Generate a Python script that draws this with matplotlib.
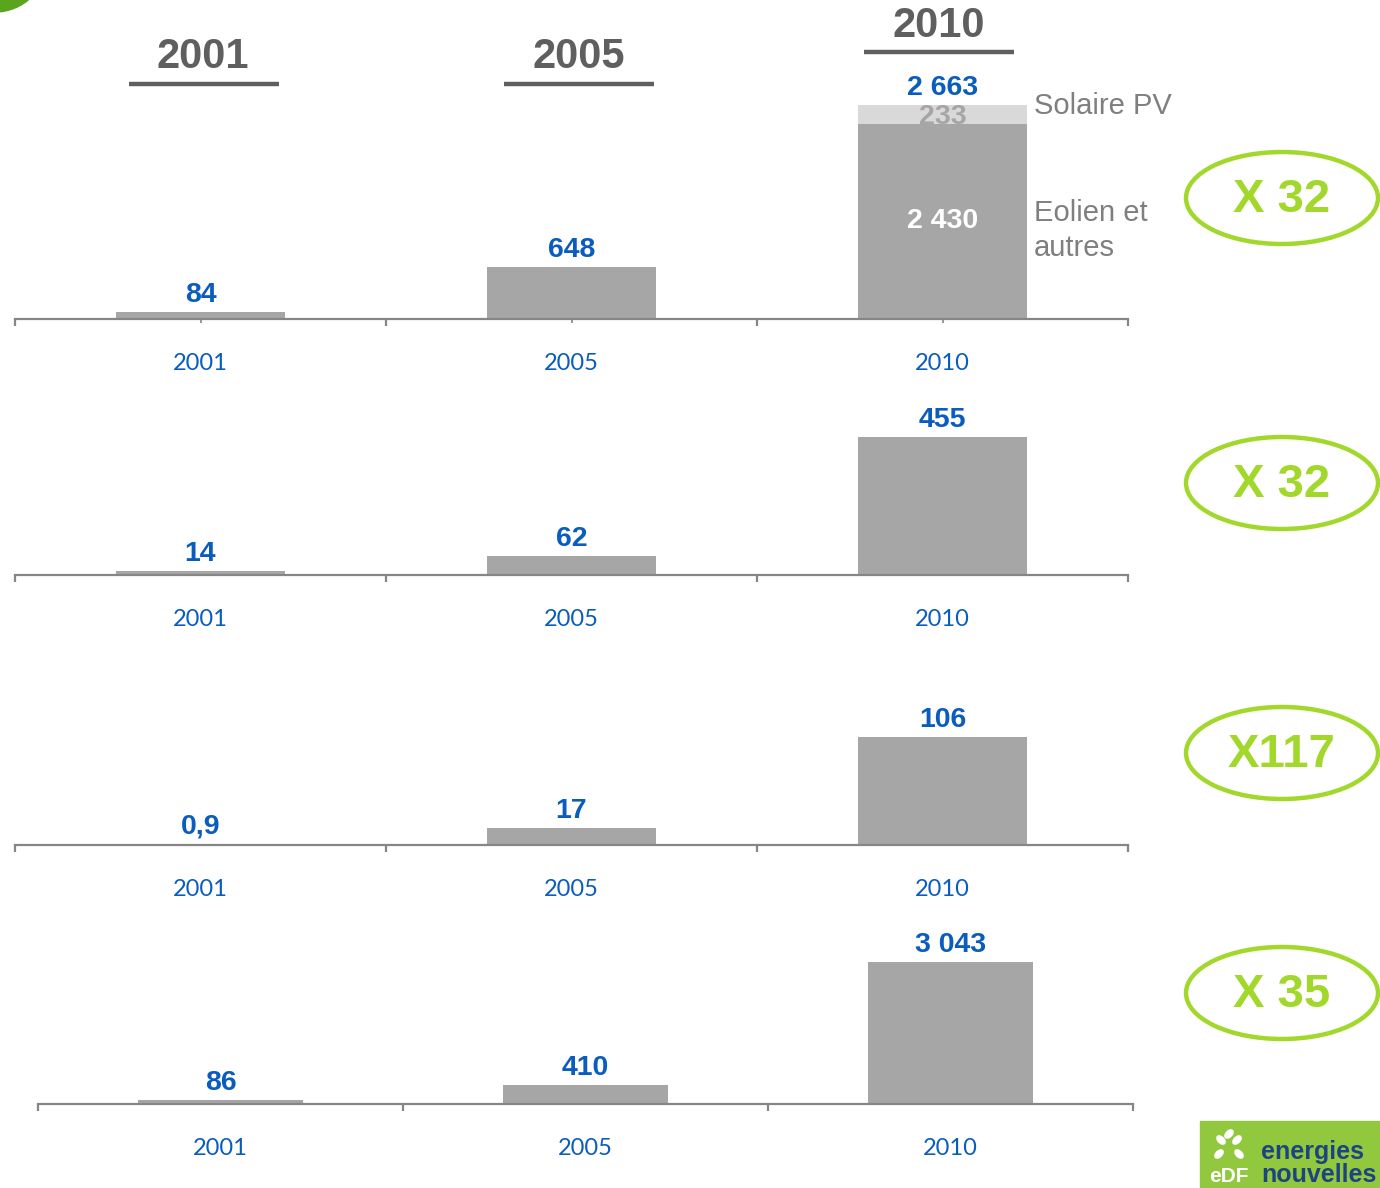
import matplotlib
matplotlib.use("Agg")
import matplotlib.pyplot as plt
from matplotlib.patches import Ellipse, Circle, Rectangle

# ---------------- data ----------------
years = ["2001", "2005", "2010"]
p1_values = [84, 648, 2663]
p1_2010_eolien = 2430
p1_2010_solaire = 233
p1_labels = ["84", "648", "2 663"]
p2_values = [14, 62, 455]
p2_labels = ["14", "62", "455"]
p3_values = [0.9, 17, 106]
p3_labels = ["0,9", "17", "106"]
p4_values = [86, 410, 3043]
p4_labels = ["86", "410", "3 043"]
multipliers = ["X 32", "X 32", "X117", "X 35"]
header_years = ["2001", "2005", "2010"]

# ---------------- style ----------------
W, H = 1380, 1188
BAR = "#a6a6a6"
LIGHT = "#d9d9d9"
BLUE = "#0a5cbf"
AXG = "#868686"
GREEN = "#a2d82b"
DARK = "#5f5f5f"
SANS = ["Liberation Sans", "DejaVu Sans"]
CAL = ["Lato", "DejaVu Sans"]

fig = plt.figure(figsize=(W / 100, H / 100), dpi=100)


def px_axes(left, right, base, top):
    return fig.add_axes([left / W, (H - base) / H, (right - left) / W, (base - top) / H])


def setup(ax, ymax, center_ticks):
    ax.set_xlim(-0.5, 2.5)
    ax.set_ylim(0, ymax)
    for s in ["top", "left", "right"]:
        ax.spines[s].set_visible(False)
    ax.spines["bottom"].set_color(AXG)
    ax.spines["bottom"].set_linewidth(1.6)
    ax.set_yticks([])
    ax.set_xticks([-0.5, 0.5, 1.5, 2.5])
    ax.set_xticklabels([])
    ax.tick_params(axis="x", which="major", length=5, width=1.6, color=AXG)
    ax.set_xticks([0, 1, 2], minor=True)
    ax.set_xticklabels(years, minor=True, color=BLUE, fontsize=17, family=CAL)
    ax.tick_params(axis="x", which="minor", length=3 if center_ticks else 0,
                   width=1.2, color=AXG, pad=21.5 if center_ticks else 24.5)
    ax.patch.set_alpha(0)


def value_labels(ax, vals, labels):
    for i, (v, l) in enumerate(zip(vals, labels)):
        ax.annotate(l, (i, v), xytext=(0, 3), textcoords="offset points",
                    ha="center", va="bottom", color=BLUE, fontsize=20.5,
                    fontweight="bold", family=SANS)


BW = 0.453

# Panel 1
ax1 = px_axes(15, 1128, 319, 100)
setup(ax1, 2725, True)
ax1.bar([0, 1], p1_values[:2], width=BW, color=BAR)
ax1.bar([2], [p1_2010_eolien], width=BW, color=BAR)
ax1.bar([2], [p1_2010_solaire], bottom=[p1_2010_eolien], width=BW, color=LIGHT)
value_labels(ax1, p1_values, p1_labels)
ax1.text(2, p1_2010_eolien + p1_2010_solaire / 2 - 35, str(p1_2010_solaire), ha="center",
         va="center", color=BAR, fontsize=20.5, fontweight="bold", family=SANS)
ax1.text(2, p1_2010_eolien / 2, "2 430", ha="center", va="center", color="white",
         fontsize=20.5, fontweight="bold", family=SANS)

# Panel 2
ax2 = px_axes(15, 1128, 575, 420)
setup(ax2, 511, False)
ax2.bar([0, 1, 2], p2_values, width=BW, color=BAR)
value_labels(ax2, p2_values, p2_labels)

# Panel 3
ax3 = px_axes(15, 1128, 845, 700)
setup(ax3, 142.3, False)
ax3.bar([0, 1, 2], p3_values, width=BW, color=BAR)
value_labels(ax3, p3_values, p3_labels)

# Panel 4
ax4 = px_axes(38, 1133, 1104, 940)
setup(ax4, 3514, False)
ax4.bar([0, 1, 2], p4_values, width=BW, color=BAR)
value_labels(ax4, p4_values, p4_labels)

# Overlay axes in pixel coordinates for decorations
ov = fig.add_axes([0, 0, 1, 1])
ov.set_xlim(0, W)
ov.set_ylim(H, 0)
ov.axis("off")
ov.patch.set_alpha(0)

# Year headers
hx = [203, 579, 939]
hy = [57, 57, 26]
uy = [84, 84, 52]
ux = [(129, 279), (504, 654), (864, 1014)]
for t, x, y, u, (a, b) in zip(header_years, hx, hy, uy, ux):
    ov.text(x, y, t, ha="center", va="center", color=DARK, fontsize=30,
            fontweight="bold", family=SANS)
    ov.plot([a, b], [u, u], color=DARK, lw=3.2, solid_capstyle="butt")

# Legend-like labels
LG = "#7f7f7f"
ov.text(1034, 106, "Solaire PV", ha="left", va="center", color=LG, fontsize=21, family=SANS)
ov.text(1034, 213, "Eolien et", ha="left", va="center", color=LG, fontsize=21, family=SANS)
ov.text(1034, 248, "autres", ha="left", va="center", color=LG, fontsize=21, family=SANS)

# Multiplier ellipses
ey = [198, 483, 753, 993]
for m, y in zip(multipliers, ey):
    ov.add_patch(Ellipse((1282, y), 192, 92, fill=False, ec=GREEN, lw=3.2))
    ov.text(1282, y + 2, m, ha="center", va="center", color=GREEN, fontsize=34,
            fontweight="bold", family=SANS)

# Green blob top-left
ov.add_patch(Circle((-5, -40), 52, color="#5aa51e", clip_on=True))

# Logo bottom right
ov.add_patch(Rectangle((1200, 1121), 180, 67, color="#92c83e"))
ov.text(1261, 1152, "energies", ha="left", va="center", color="#1d4480", fontsize=18,
        fontweight="bold", family=SANS)
ov.text(1261, 1175, "nouvelles", ha="left", va="center", color="#1d4480", fontsize=18,
        fontweight="bold", family=SANS)
ov.text(1229, 1177, "eDF", ha="center", va="center", color="white", fontsize=15,
        fontweight="bold", family=SANS)
for dx, dy in [(-8, -8), (8, -8), (-10, 6), (10, 6), (0, -14)]:
    ov.add_patch(Ellipse((1229 + dx, 1148 + dy), 10, 6, angle=45 if dx * dy > 0 else -45,
                         color="white"))

fig.savefig("out.png", dpi=100)
